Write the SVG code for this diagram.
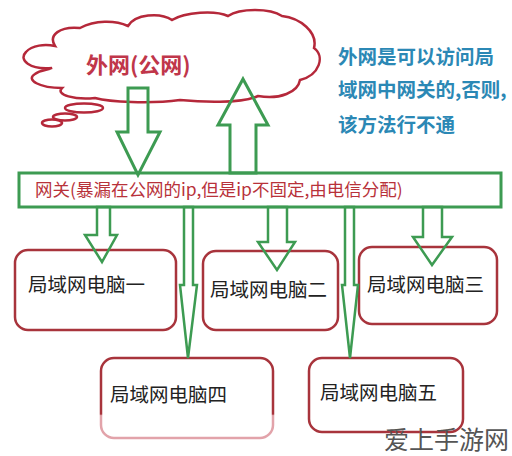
<svg xmlns="http://www.w3.org/2000/svg" width="512" height="456" viewBox="0 0 512 456">
<defs>
<style>
text{font-family:"Noto Sans CJK SC","Noto Sans",sans-serif}
.cloud{fill:#fff;stroke:#b5283a;stroke-width:2.5}
.arrow{fill:none;stroke:#3d9b52;stroke-width:3;stroke-linejoin:miter}
.thin{fill:none;stroke:#3d9b52;stroke-width:2.5}
.box{fill:#fff;stroke:#a8343c;stroke-width:2.5}
.lbl{font-size:19.5px;fill:#222}
</style>
<linearGradient id="fade" gradientUnits="userSpaceOnUse" x1="0" y1="358" x2="0" y2="438">
<stop offset="0.7" stop-color="#a8343c"/>
<stop offset="0.72" stop-color="#e2a3aa"/>
<stop offset="1" stop-color="#e2a3aa"/>
</linearGradient>
</defs>
<rect width="512" height="456" fill="#fff"/>
<g id="cloud">
<path class="cloud" d="M52,68 C30,70 18,60 26,52 C32,45 45,44 55,46 C48,35 60,26 80,28 C95,20 115,20 128,26 C135,14 160,12 172,20 C185,12 215,10 228,16 C240,8 270,8 282,16 C300,18 318,32 314,48 C325,56 320,75 300,80 C298,92 280,100 258,96 C240,104 200,102 180,100 C150,104 110,102 95,98 C75,100 55,95 62,88 C40,88 25,80 35,74 C40,70 48,70 52,68 Z"/>
<ellipse class="cloud" cx="84" cy="108" rx="19" ry="4.5"/>
<ellipse class="cloud" cx="65" cy="117" rx="12" ry="3.5"/>
<ellipse class="cloud" cx="52" cy="123" rx="10" ry="3.5"/>
<text x="86" y="73" font-size="22" font-weight="bold" fill="#c0364a">外网(公网)</text>
</g>
<g id="note">
<text font-size="19.5" font-weight="bold" fill="#2b88b5">
<tspan x="338" y="64">外网是可以访问局</tspan>
<tspan x="338" y="97">域网中网关的,否则,</tspan>
<tspan x="338" y="132">该方法行不通</tspan>
</text>
</g>
<g id="gateway">
<rect x="19" y="173" width="482" height="34" fill="none" stroke="#3d9b52" stroke-width="3"/>
<text x="35" y="196" font-size="17.5" fill="#b8323a">网关(暴漏在公网的ip,但是ip不固定,由电信分配)</text>
</g>
<g id="pc1">
<rect class="box" x="15" y="250" width="161" height="80" rx="13"/>
<text class="lbl" x="28" y="292">局域网电脑一</text>
</g>
<g id="pc2">
<rect class="box" x="203" y="251" width="135" height="79" rx="13"/>
<text class="lbl" x="210" y="297">局域网电脑二</text>
</g>
<g id="pc3">
<rect class="box" x="359" y="247" width="138" height="77" rx="13"/>
<text class="lbl" x="367" y="292">局域网电脑三</text>
</g>
<g id="pc4">
<rect x="101" y="358" width="172" height="80" rx="13" fill="#fff" stroke="url(#fade)" stroke-width="2.5"/>
<text class="lbl" x="110" y="402">局域网电脑四</text>
</g>
<g id="pc5">
<rect class="box" x="309" y="358" width="154" height="74" rx="13"/>
<text class="lbl" x="320" y="400">局域网电脑五</text>
</g>
<g id="connectors">
<polygon class="arrow" points="128,88 148,88 148,132 160,132 138,175 117,132 128,132"/>
<polygon class="arrow" points="243,79 268,125 256,125 256,173 230,173 230,125 218,125"/>
<polygon class="thin" points="97,207 110,207 110,235 117,235 102,262 85,235 97,235"/>
<polygon class="thin" points="268,207 287,207 287,242 295,242 277,270 258,242 268,242"/>
<polygon class="thin" points="423,207 442,207 442,237 452,237 432,265 413,237 423,237"/>
<polygon class="thin" points="184,207 193,207 193,285 197,285 188,358 180,285 184,285"/>
<polygon class="thin" points="345,207 354,207 354,285 358,285 350,358 342,285 345,285"/>
</g>
<text x="384" y="449" font-size="25" fill="#555">爱上手游网</text>
</svg>
